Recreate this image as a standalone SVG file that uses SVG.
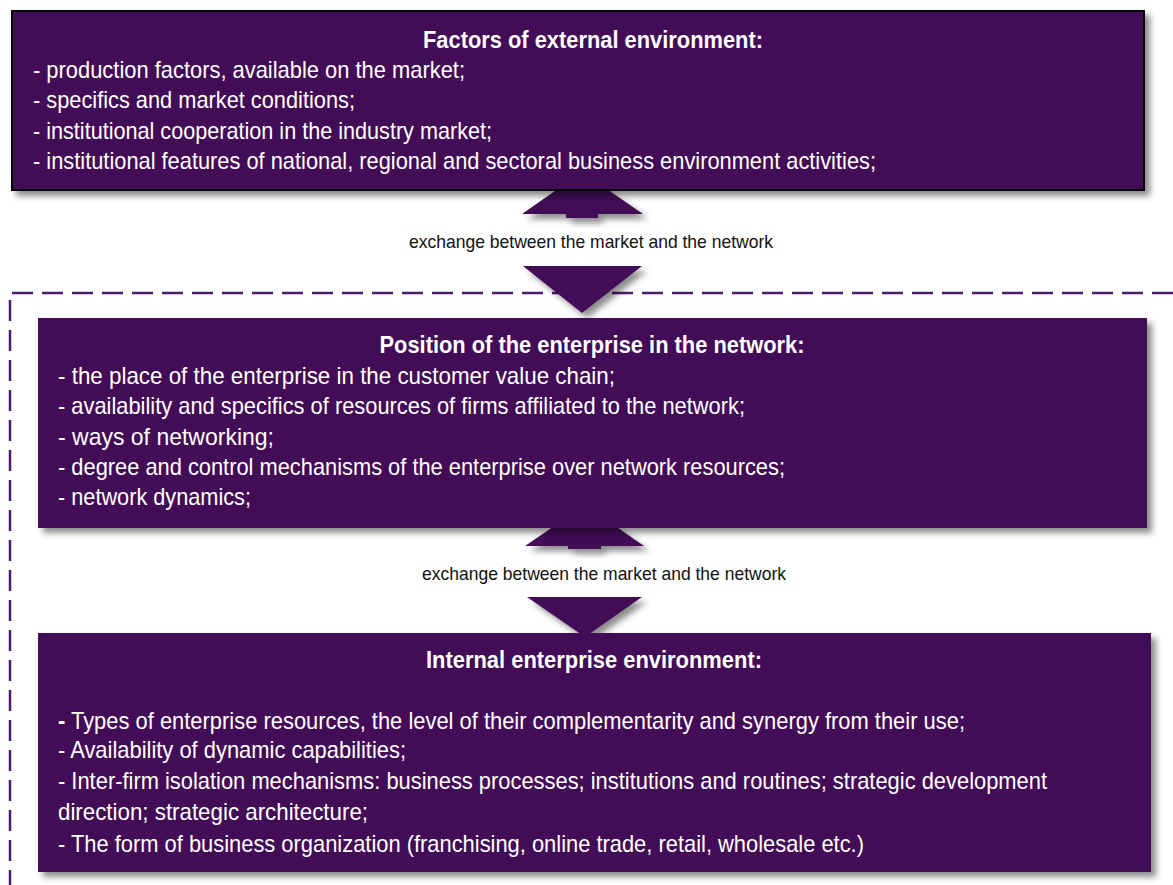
<svg xmlns="http://www.w3.org/2000/svg" width="1173" height="885" viewBox="0 0 1173 885">
  <defs>
    <filter id="shadow" x="-5%" y="-5%" width="115%" height="125%">
      <feDropShadow dx="5" dy="5" stdDeviation="3" flood-color="#000" flood-opacity="0.45"/>
    </filter>
    <style>
      .box { fill: #420f57; }
      .arrow { fill: #420f57; }
      .title { font-family: "Liberation Sans", Arial, sans-serif; font-size: 24px; font-weight: bold; fill: #fff; text-anchor: middle; }
      .item { font-family: "Liberation Sans", Arial, sans-serif; font-size: 24px; fill: #fff; }
      .label { font-family: "Liberation Sans", Arial, sans-serif; font-size: 19px; fill: #111; }
      .frame { fill: none; stroke: #4b1c6b; stroke-width: 2.5; stroke-dasharray: 21 9; }
    </style>
  </defs>
  <rect width="1173" height="885" fill="#fff"/>

  <!-- network boundary -->
  <path class="frame" d="M1173 293 H10 V885"/>

  <!-- connectors -->
  <g id="connectors">
    <path class="arrow" filter="url(#shadow)" d="M582 172 L643 214 H598 V218 H566 V214 H522 Z"/>
    <path class="arrow" filter="url(#shadow)" d="M523 266 H642 L582 313 Z"/>
    <path class="arrow" filter="url(#shadow)" d="M585 505 L644 546 H601 V549 H568 V546 H525 Z"/>
    <path class="arrow" filter="url(#shadow)" d="M527 597 H642 L585 637 Z"/>
    <text class="label" x="409" y="248" textLength="364" lengthAdjust="spacingAndGlyphs">exchange between the market and the network</text>
    <text class="label" x="422" y="580" textLength="364" lengthAdjust="spacingAndGlyphs">exchange between the market and the network</text>
  </g>

  <!-- external environment -->
  <g id="external">
    <rect class="box" x="12" y="11" width="1132" height="179" stroke="#000" stroke-width="2" filter="url(#shadow)"/>
    <text class="title" x="593" y="48" textLength="340" lengthAdjust="spacingAndGlyphs">Factors of external environment:</text>
    <text class="item" x="33" y="78" textLength="432" lengthAdjust="spacingAndGlyphs">- production factors, available on the market;</text>
    <text class="item" x="33" y="108" textLength="322" lengthAdjust="spacingAndGlyphs">- specifics and market conditions;</text>
    <text class="item" x="33" y="139" textLength="459" lengthAdjust="spacingAndGlyphs">- institutional cooperation in the industry market;</text>
    <text class="item" x="33" y="169" textLength="843" lengthAdjust="spacingAndGlyphs">- institutional features of national, regional and sectoral business environment activities;</text>
  </g>

  <!-- position in the network -->
  <g id="position">
    <rect class="box" x="38" y="318" width="1109" height="210" filter="url(#shadow)"/>
    <text class="title" x="592" y="353" textLength="425" lengthAdjust="spacingAndGlyphs">Position of the enterprise in the network:</text>
    <text class="item" x="58" y="384" textLength="557" lengthAdjust="spacingAndGlyphs">- the place of the enterprise in the customer value chain;</text>
    <text class="item" x="58" y="414" textLength="687" lengthAdjust="spacingAndGlyphs">- availability and specifics of resources of firms affiliated to the network;</text>
    <text class="item" x="58" y="445" textLength="216" lengthAdjust="spacingAndGlyphs">- ways of networking;</text>
    <text class="item" x="58" y="475" textLength="727" lengthAdjust="spacingAndGlyphs">- degree and control mechanisms of the enterprise over network resources;</text>
    <text class="item" x="58" y="505" textLength="193" lengthAdjust="spacingAndGlyphs">- network dynamics;</text>
  </g>

  <!-- internal environment -->
  <g id="internal">
    <rect class="box" x="38" y="633" width="1113" height="239" filter="url(#shadow)"/>
    <text class="title" x="594" y="668" textLength="336" lengthAdjust="spacingAndGlyphs">Internal enterprise environment:</text>
    <text class="item" x="58" y="729" textLength="907" lengthAdjust="spacingAndGlyphs"><tspan font-weight="bold">-</tspan> Types of enterprise resources, the level of their complementarity and synergy from their use;</text>
    <text class="item" x="58" y="758" textLength="348" lengthAdjust="spacingAndGlyphs">- Availability of dynamic capabilities;</text>
    <text class="item" x="58" y="789" textLength="989" lengthAdjust="spacingAndGlyphs">- Inter-firm isolation mechanisms: business processes; institutions and routines; strategic development</text>
    <text class="item" x="58" y="820" textLength="310" lengthAdjust="spacingAndGlyphs">direction; strategic architecture;</text>
    <text class="item" x="58" y="852" textLength="806" lengthAdjust="spacingAndGlyphs">- The form of business organization (franchising, online trade, retail, wholesale etc.)</text>
  </g>
</svg>
